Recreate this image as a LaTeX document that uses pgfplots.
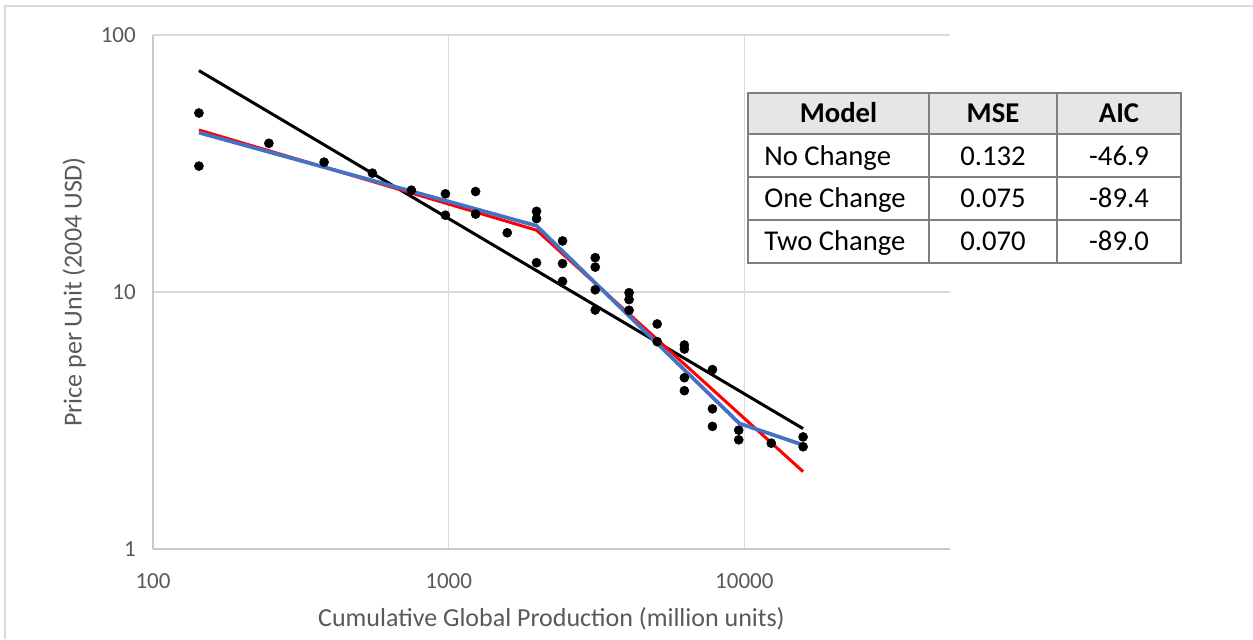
\documentclass[border=0pt]{standalone}
\usepackage{fontspec}
\setmainfont{Carlito}
\usepackage{pgfplots}
\pgfplotsset{compat=1.18}
\definecolor{gridgray}{HTML}{D9D9D9}
\definecolor{axgray}{HTML}{C8C8C8}
\definecolor{txtgray}{HTML}{595959}
\definecolor{hdrgray}{HTML}{E7E6E6}
\definecolor{tblborder}{HTML}{7F7F7F}
\definecolor{xlblue}{HTML}{4472C4}
\definecolor{xlred}{HTML}{FF0000}

\pgfplotstableread{
x y
143 49.7
143 30.9
246.5 37.9
379 32.0
552 29.0
748 24.9
975 24.1
975 19.9
1233 24.6
1233 20.1
1578 17.0
1982 20.6
1982 19.3
1982 13.0
2427 15.8
2427 12.9
2427 11.0
3131 13.6
3131 12.5
3131 10.2
3131 8.51
4074 9.94
4074 9.34
4074 8.49
5071 7.51
5071 6.41
6268 6.22
6268 6.00
6268 4.64
6268 4.13
7800 4.99
7800 3.51
7800 3.00
9570 2.90
9570 2.66
12330 2.58
15800 2.73
15800 2.50
}\obsdata

\begin{document}
\begin{tikzpicture}
\path[use as bounding box] (0,0) rectangle (939.75pt,479.25pt);
\draw[gridgray, line width=1.5pt] (3.75pt,0) -- (3.75pt,474.75pt) -- (939.75pt,474.75pt);
\begin{axis}[
  at={(114.75pt,67.5pt)}, anchor=south west,
  width=597.75pt, height=385.5pt, scale only axis,
  xmode=log, ymode=log,
  xmin=100, xmax=49600, ymin=1, ymax=100,
  xtick={100,1000,10000}, xticklabels={100,1000,10000},
  ytick={1,10,100}, yticklabels={1,10,100},
  major tick length=0pt, minor tick length=0pt,
  tick style={draw=none},
  axis x line*=bottom, axis y line*=left,
  axis line style={draw=axgray, line width=1.1pt, -},
  grid=major,
  major grid style={draw=gridgray, line width=1.1pt},
  /pgf/number format/assume math mode=true,
  tick label style={font=\fontsize{17.25pt}{20pt}\selectfont, text=txtgray, inner sep=0pt},
  xticklabel style={anchor=north, yshift=-18pt},
  yticklabel style={anchor=east, xshift=-12.75pt},
  xlabel={Cumulative Global Production (million units)},
  ylabel={Price per Unit (2004 USD)},
  every axis x label/.style={at={(axis description cs:0.5,0)}, anchor=north, yshift=-43.5pt,
     font=\fontsize{19.5pt}{22pt}\selectfont, text=txtgray, inner sep=0pt},
  every axis y label/.style={at={(axis description cs:-0.0841,0.5)}, rotate=90, anchor=south,
     font=\fontsize{19.5pt}{22pt}\selectfont, text=txtgray, inner sep=0pt},
]
\addplot[black, line width=2.25pt, no marks] coordinates {(143,72.7) (15800,2.94)};
\addplot[xlred, line width=2.25pt, no marks, line join=round] coordinates {(143,42.7) (1982,17.4) (15800,2.0)};
\addplot[xlblue, line width=2.8pt, no marks, line join=round] coordinates {(143,41.7) (1982,18.1) (9620,3.08) (15800,2.54)};
\addplot[only marks, mark=*, mark size=3.4pt, black, mark options={fill=black, draw=black}] table[x=x, y=y] {\obsdata};
\end{axis}
\begin{scope}[x=0.75pt, y=-0.75pt, yshift=479.25pt]
\fill[white] (748,93) rectangle (1181,263);
\fill[hdrgray] (748,93) rectangle (1181,134.5);
\foreach \yy in {134.5,177.5,220} \draw[tblborder, line width=1.5pt] (748,\yy) -- (1181,\yy);
\foreach \xx in {929,1057} \draw[tblborder, line width=1.5pt] (\xx,93) -- (\xx,263);
\draw[tblborder, line width=1.5pt] (748,93) rectangle (1181,263);
\begin{scope}[every node/.style={font=\fontsize{21.5pt}{24pt}\selectfont, inner sep=0pt, anchor=base}]
\node[font=\fontsize{21.5pt}{24pt}\selectfont\bfseries] at (838.5,123) {Model};
\node[font=\fontsize{21.5pt}{24pt}\selectfont\bfseries] at (993,123) {MSE};
\node[font=\fontsize{21.5pt}{24pt}\selectfont\bfseries] at (1119,123) {AIC};
\node[anchor=base west] at (764,165.5) {No Change};
\node at (993,165.5) {0.132};
\node at (1119,165.5) {-46.9};
\node[anchor=base west] at (764,208) {One Change};
\node at (993,208) {0.075};
\node at (1119,208) {-89.4};
\node[anchor=base west] at (764,250.5) {Two Change};
\node at (993,250.5) {0.070};
\node at (1119,250.5) {-89.0};
\end{scope}
\end{scope}
\end{tikzpicture}
\end{document}
